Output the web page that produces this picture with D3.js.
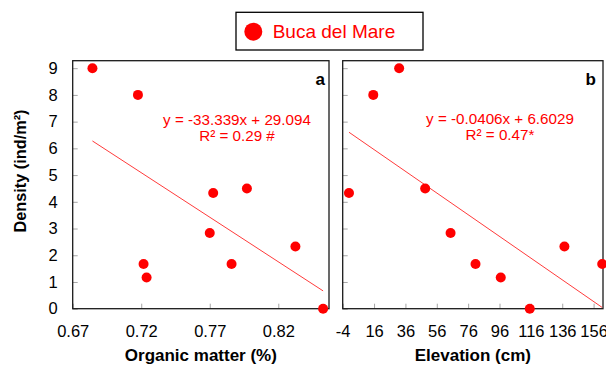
<!DOCTYPE html>
<html>
<head>
<meta charset="utf-8">
<script src="https://cdn.jsdelivr.net/npm/d3@7"></script>
<style>
  html, body { margin: 0; padding: 0; background: #fff; }
  svg { display: block; font-family: "Liberation Sans", Arial, sans-serif; }
</style>
</head>
<body>
<svg id="chart" width="606" height="365"></svg>
<script>
// Site data: density against organic matter and elevation
const seriesName = "Buca del Mare";
const density = [9, 8, 4.33, 4.5, 2.83, 1.67, 1.17, 1.67, 2.33, 0];
const organicMatter = [0.6844, 0.7176, 0.7725, 0.7971, 0.770, 0.7217, 0.7239, 0.7859, 0.8325, 0.8527];
const elevation = [32, 15.5, 0, 48.6, 64.8, 80.7, 96.8, 161.5, 137.4, 115.3];

const densityTicks = [0, 1, 2, 3, 4, 5, 6, 7, 8, 9];
const omTicks = [0.67, 0.72, 0.77, 0.82];
const elevTicks = [-4, 16, 36, 56, 76, 96, 116, 136, 156];

// Linear fits as printed on each panel
const fitA = { slope: -33.339, intercept: 29.094, eq: "y = -33.339x + 29.094", r2: "R² = 0.29 #" };
const fitB = { slope: -0.0406, intercept: 6.6029, eq: "y = -0.0406x + 6.6029", r2: "R² = 0.47*" };

const RED = "#ff0000";
const svg = d3.select("#chart");

const plotTop = 60.7, plotBottom = 308.7;
const y = d3.scaleLinear().domain([0, 9.28]).range([plotBottom, plotTop]);

function panel(opts) {
  const x = d3.scaleLinear().domain(opts.domain).range(opts.range);
  const g = svg.append("g");

  // inward tick marks with outside labels
  const xAxis = d3.axisBottom(x).tickValues(opts.ticks).tickSizeInner(-5).tickSizeOuter(0)
    .tickPadding(17).tickFormat(opts.fmt);
  const gx = g.append("g").attr("transform", `translate(0,${plotBottom})`).call(xAxis);
  gx.select(".domain").remove();
  gx.selectAll(".tick line").attr("stroke", "#a6a6a6");
  gx.selectAll(".tick text").attr("font-size", 16.5).attr("fill", "#000")
    .attr("font-family", "Liberation Sans, Arial, sans-serif");

  const yAxis = d3.axisLeft(y).tickValues(densityTicks).tickSizeInner(-5).tickSizeOuter(0)
    .tickPadding(15).tickFormat(opts.showY ? d => String(d) : () => "");
  const gy = g.append("g").attr("transform", `translate(${opts.range[0]},0)`).call(yAxis);
  gy.select(".domain").remove();
  gy.selectAll(".tick line").attr("stroke", "#a6a6a6");
  gy.selectAll(".tick text").attr("font-size", 16.5).attr("fill", "#000")
    .attr("font-family", "Liberation Sans, Arial, sans-serif");

  // plot frame
  g.append("rect")
    .attr("x", opts.range[0]).attr("y", plotTop)
    .attr("width", opts.range[1] - opts.range[0]).attr("height", plotBottom - plotTop)
    .attr("fill", "none").attr("stroke", "#1a1a1a").attr("stroke-width", 1.3);

  // trend line over the data range
  const xs = d3.extent(opts.xs);
  g.append("line")
    .attr("x1", x(xs[0])).attr("y1", y(opts.fit.slope * xs[0] + opts.fit.intercept))
    .attr("x2", x(xs[1])).attr("y2", y(opts.fit.slope * xs[1] + opts.fit.intercept))
    .attr("stroke", "#ff3b3b").attr("stroke-width", 1);

  // points
  g.selectAll("circle.pt").data(opts.xs.map((v, i) => [v, density[i]])).join("circle")
    .attr("class", "pt")
    .attr("cx", d => x(d[0])).attr("cy", d => y(d[1])).attr("r", 5)
    .attr("fill", RED);

  // fit equation
  const eq = g.append("text").attr("text-anchor", "middle").attr("font-size", 15.2).attr("fill", RED);
  eq.append("tspan").attr("x", opts.eqX).attr("y", opts.eqY).text(opts.fit.eq);
  eq.append("tspan").attr("x", opts.eqX).attr("y", opts.eqY + 16).text(opts.fit.r2);

  // panel letter
  g.append("text").attr("x", opts.letterX).attr("y", 84.5).attr("text-anchor", "end")
    .attr("font-size", 17).attr("font-weight", "bold").attr("fill", "#000").text(opts.letter);

  // axis title
  g.append("text").attr("x", (opts.range[0] + opts.range[1]) / 2).attr("y", 361)
    .attr("text-anchor", "middle").attr("font-size", 17).attr("font-weight", "bold")
    .attr("fill", "#000").text(opts.title);
}

panel({
  domain: [0.67, 0.857], range: [72.7, 329], ticks: omTicks, fmt: d => d.toFixed(2),
  xs: organicMatter, fit: fitA, showY: true, eqX: 237, eqY: 125,
  letter: "a", letterX: 325, title: "Organic matter (%)"
});
panel({
  domain: [-4, 162], range: [342.7, 603], ticks: elevTicks, fmt: d => String(d),
  xs: elevation, fit: fitB, showY: false, eqX: 500, eqY: 123.5,
  letter: "b", letterX: 596, title: "Elevation (cm)"
});

// y axis title
svg.append("text")
  .attr("transform", "translate(26,171) rotate(-90)")
  .attr("text-anchor", "middle").attr("font-size", 16.3).attr("font-weight", "bold")
  .attr("fill", "#000").text("Density (ind/m²)");

// legend
const lg = svg.append("g");
lg.append("rect").attr("x", 236).attr("y", 12.3).attr("width", 187).attr("height", 37.7)
  .attr("fill", "#fff").attr("stroke", "#000").attr("stroke-width", 1.3);
lg.append("circle").attr("cx", 253.3).attr("cy", 31.7).attr("r", 9).attr("fill", RED);
lg.append("text").attr("x", 272.7).attr("y", 37.8).attr("font-size", 19)
  .attr("fill", RED).text(seriesName);
</script>
</body>
</html>
